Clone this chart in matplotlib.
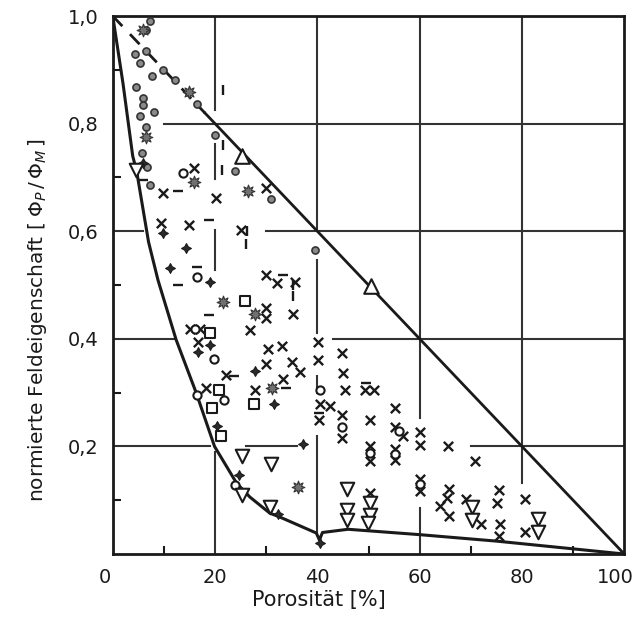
"""
Normierte Feldeigenschaft ueber Porositaet - Nachbau des Diagramms
"""
import matplotlib
matplotlib.use("Agg")
import matplotlib.pyplot as plt
import matplotlib.transforms as mtransforms

# ==========================================================
# Daten
# ==========================================================

# obere Grenze (Gerade) und untere Grenzkurve
upper_x = [0, 18, 100]
upper_y = [1.0, 0.82, 0.0]

lower_x = [0, 2.0, 3.9, 4.7, 7.0, 8.85, 12.4, 16.3, 19.9, 23.5, 24.2, 26.8, 30.7,
           32.6, 39.8, 40.4, 41.0, 46.0, 60.0, 75.0, 100.0]
lower_y = [1.0, 0.875, 0.74, 0.71, 0.58, 0.509, 0.398, 0.30, 0.20, 0.143, 0.132,
           0.106, 0.076, 0.069, 0.039, 0.026, 0.04, 0.046, 0.036, 0.024, 0.0]

dots_x = [7.2, 6.5, 4.3, 6.5, 5.4, 9.8, 7.6, 12.1, 16.5, 4.6, 5.9, 5.9, 5.4, 8.0,
          19.9, 6.5, 5.8, 6.6, 7.2, 23.9, 31.0, 39.5]
dots_y = [0.99, 0.974, 0.93, 0.935, 0.912, 0.90, 0.889, 0.881, 0.836, 0.869, 0.847,
          0.835, 0.814, 0.822, 0.779, 0.794, 0.745, 0.72, 0.686, 0.712, 0.66, 0.566]

stars_x = [5.9, 15.0, 6.5, 15.8, 26.5, 21.6, 27.8, 31.2, 36.2]
stars_y = [0.974, 0.859, 0.776, 0.692, 0.674, 0.469, 0.447, 0.308, 0.125]

cross_x = [15.8, 9.8, 20.1, 30.0, 15.0, 25.0, 9.5, 30.0, 32.1, 35.6,
           30.0, 30.0, 35.3, 15.1, 17.0, 26.8, 16.7, 30.4, 33.0, 29.9, 35.1, 36.6,
           22.2, 33.2, 18.2, 27.8,
           40.1, 40.1, 40.5, 42.4, 40.3, 44.9, 45.0, 45.4, 49.3, 51.0, 44.9, 44.9,
           50.2, 50.2, 50.2, 55.1, 55.1, 56.8, 60.0, 60.0, 55.1, 55.1, 60.0, 60.0,
           50.2,
           65.6, 70.8, 65.8, 65.4, 63.9, 65.8, 69.1, 71.9, 75.5, 75.2, 75.8, 75.5,
           80.5, 80.6]
cross_y = [0.717, 0.672, 0.661, 0.68, 0.611, 0.602, 0.615, 0.519, 0.503, 0.506,
           0.457, 0.438, 0.447, 0.418, 0.418, 0.416, 0.395, 0.382, 0.387, 0.353, 0.357,
           0.339, 0.333, 0.325, 0.309, 0.305,
           0.395, 0.361, 0.279, 0.275, 0.25, 0.374, 0.336, 0.304, 0.304, 0.304, 0.258,
           0.216, 0.249, 0.20, 0.172, 0.271, 0.237, 0.219, 0.227, 0.203, 0.195, 0.175,
           0.14, 0.118, 0.113,
           0.201, 0.172, 0.12, 0.104, 0.089, 0.071, 0.102, 0.056, 0.119, 0.094, 0.056,
           0.033, 0.102, 0.041]

circ_x = [13.8, 16.4, 19.7, 16.5, 21.7, 23.9, 40.6, 44.9, 50.2, 56.0, 55.1, 60.0, 16.1]
circ_y = [0.709, 0.515, 0.362, 0.296, 0.286, 0.128, 0.305, 0.237, 0.187, 0.228,
          0.185, 0.13, 0.418]

square_x = [25.8, 19.0, 20.8, 27.6, 19.5, 21.2]
square_y = [0.47, 0.411, 0.304, 0.278, 0.271, 0.219]

plus_x = [11.1, 14.4, 9.8, 19.0, 19.0, 16.7, 27.8, 31.5, 20.3, 37.2, 24.7, 32.3,
          40.5, 5.9]
plus_y = [0.531, 0.568, 0.596, 0.506, 0.388, 0.376, 0.341, 0.279, 0.238, 0.204,
          0.147, 0.074, 0.02, 0.726]

tri_up_x = [25.2, 50.4]
tri_up_y = [0.739, 0.498]

tri_dn_x = [4.5, 25.2, 31.0, 25.2, 30.7, 45.7, 45.7, 45.7, 50.2, 50.2, 49.9,
            70.3, 70.3, 83.2, 83.2]
tri_dn_y = [0.714, 0.183, 0.167, 0.110, 0.087, 0.12, 0.082, 0.063, 0.094, 0.072,
            0.057, 0.087, 0.063, 0.066, 0.041]

dash_x = [5.9, 12.8, 18.8, 16.4, 12.8, 33.3, 18.8, 33.9, 23.8, 49.6, 40.3]
dash_y = [0.695, 0.674, 0.62, 0.533, 0.50, 0.519, 0.444, 0.308, 0.33, 0.317, 0.262]

bar_x = [21.6, 21.6, 21.4, 26.2, 26.0, 35.2, 35.2]
bar_y = [0.862, 0.76, 0.714, 0.60, 0.576, 0.48, 0.50]

xticks = [0, 20, 40, 60, 80, 100]
xtick_labels = ["0", "20", "40", "60", "80", "100"]
yticks = [0.2, 0.4, 0.6, 0.8, 1.0]
ytick_labels = ["0,2", "0,4", "0,6", "0,8", "1,0"]

# unterbrochene Gitterlinien: (Wert, von, bis)
hgrid = [(0.8, 10, 100), (0.6, 0, 6), (0.6, 30, 100), (0.4, 0, 12), (0.4, 43, 100),
         (0.2, 0, 19), (0.2, 26, 36), (0.2, 70, 100)]
vgrid = [(20, 0.825, 1.0), (20, 0.698, 0.763), (20, 0.528, 0.602), (20, 0.0, 0.19),
         (40, 0.6, 1.0), (40, 0.41, 0.546), (40, 0.30, 0.33), (40, 0.035, 0.22),
         (60, 0.253, 1.0), (60, 0.0, 0.085), (80, 0.132, 1.0)]

plt.rcParams["font.family"] = ["DejaVu Sans"]

fig = plt.figure(figsize=(6.37, 6.27), dpi=100)
ax = fig.add_axes([0.177, 0.1164, 0.803, 0.858])

ink = "#1a1a1a"

# Gitter
for val, a, b in hgrid:
    ax.plot([a, b], [val, val], color="#333333", lw=1.5, zorder=1)
for val, a, b in vgrid:
    ax.plot([val, val], [a, b], color="#333333", lw=1.5, zorder=1)

# Grenzlinien
ax.plot(upper_x[:2], upper_y[:2], color=ink, lw=2.0, dashes=(5, 4), zorder=2)
ax.plot(upper_x[1:], upper_y[1:], color=ink, lw=2.0, zorder=2)
ax.plot(lower_x, lower_y, color=ink, lw=2.2, zorder=2)

# Messpunkte
ax.scatter(dots_x, dots_y, s=26, c="#8a8a8a", edgecolors="#333333", linewidths=1.2, zorder=4)
ax.scatter(stars_x, stars_y, s=85, c="#707070", marker=(8, 1, 0),
           edgecolors="#333333", linewidths=0.8, zorder=4)
ax.scatter(cross_x, cross_y, s=45, c=ink, marker="x", linewidths=1.7, zorder=4)
ax.scatter(circ_x, circ_y, s=35, facecolors="white", edgecolors=ink, linewidths=1.5, zorder=4)
ax.scatter(square_x, square_y, s=60, marker="s", facecolors="white",
           edgecolors=ink, linewidths=1.5, zorder=4)
ax.scatter(plus_x, plus_y, s=50, marker=(4, 1, 0), c="#2a2a2a",
           edgecolors=ink, linewidths=0.8, zorder=4)
ax.scatter(tri_up_x, tri_up_y, s=110, marker="^", facecolors="white",
           edgecolors=ink, linewidths=1.5, zorder=4)
ax.scatter(tri_dn_x, tri_dn_y, s=95, marker="v", facecolors="white",
           edgecolors=ink, linewidths=1.5, zorder=4)
ax.scatter(dash_x, dash_y, s=50, marker="_", c=ink, linewidths=1.7, zorder=4)
ax.scatter(bar_x, bar_y, s=50, marker="|", c=ink, linewidths=1.7, zorder=4)

# Achsen
ax.set_xlim(0, 100)
ax.set_ylim(0, 1.0)
ax.set_xticks(xticks)
ax.set_xticklabels(xtick_labels)
ax.set_yticks(yticks)
ax.set_yticklabels(ytick_labels)
ax.set_xticks(range(10, 100, 20), minor=True)
ax.set_yticks([0.1, 0.3, 0.5, 0.7, 0.9], minor=True)
ax.tick_params(which="major", length=0, labelsize=14, pad=10, colors=ink)
ax.tick_params(which="minor", direction="in", length=6, width=1.5, colors=ink)
for sp in ax.spines.values():
    sp.set_linewidth(2.0)
    sp.set_color(ink)

# "100" etwas nach links, damit es nicht am Rand abgeschnitten wird
last = ax.get_xticklabels()[-1]
last.set_transform(last.get_transform()
                   + mtransforms.ScaledTranslation(-9 / 100, 0, fig.dpi_scale_trans))
# "0" der x-Achse leicht nach links wie im Original
first = ax.get_xticklabels()[0]
first.set_transform(first.get_transform()
                    + mtransforms.ScaledTranslation(-8 / 100, 0, fig.dpi_scale_trans))

ax.set_xlabel("Porosität [%]", fontsize=15, color=ink)
ax.xaxis.set_label_coords(0.403, -0.066)
ax.set_ylabel(r"normierte Feldeigenschaft $[\;\Phi_P\,/\,\Phi_M\,]$",
              fontsize=14.5, color=ink)
ax.yaxis.set_label_coords(-0.125, 0.435)

fig.savefig("out.png", dpi=100)
